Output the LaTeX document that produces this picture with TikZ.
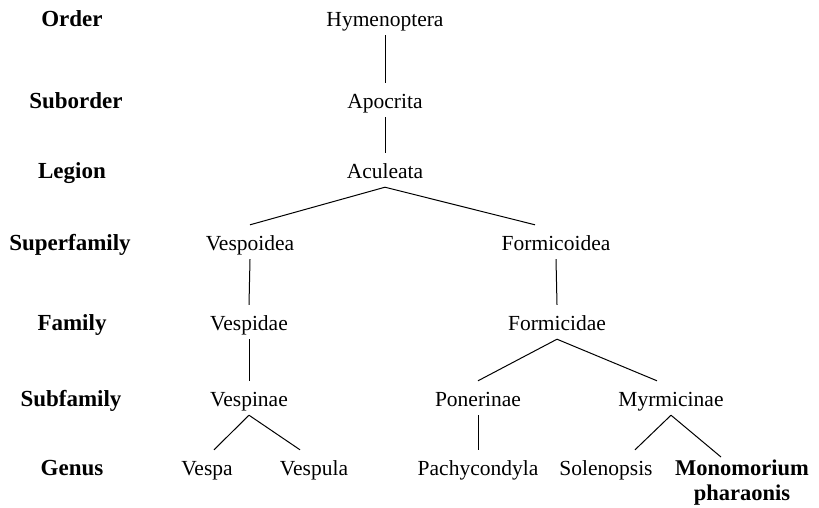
\documentclass[tikz,border=0pt]{standalone}
\usepackage{fontspec}
\setmainfont{Liberation Serif}
\begin{document}
\begin{tikzpicture}[x=1pt,y=-1pt,
  taxon/.style={inner xsep=0pt,inner ysep=7pt,text height=18pt,text depth=2pt,font=\fontsize{21.5}{25}\selectfont},
  rank/.style={inner sep=0pt,text height=18pt,text depth=2pt,font=\fontsize{23}{25}\selectfont\bfseries},
  link/.style={line width=1pt}]
\useasboundingbox (0,0) rectangle (819,507);
% rank labels
\node[rank] (rOrder) at (72,18) {Order};
\node[rank] (rSuborder) at (76,100) {Suborder};
\node[rank] (rLegion) at (72,170) {Legion};
\node[rank] (rSuper) at (70,242) {Superfamily};
\node[rank] (rFamily) at (72,322) {Family};
\node[rank] (rSub) at (71,398) {Subfamily};
\node[rank] (rGenus) at (72,467) {Genus};
% taxa
\node[taxon] (hym) at (385,18) {Hymenoptera};
\node[taxon] (apo) at (385,100) {Apocrita};
\node[taxon] (acu) at (385,170) {Aculeata};
\node[taxon] (vesp) at (250,242) {Vespoidea};
\node[taxon] (form) at (556,242) {Formicoidea};
\node[taxon] (vespid) at (249,322) {Vespidae};
\node[taxon] (formid) at (557,322) {Formicidae};
\node[taxon] (vespin) at (249,398) {Vespinae};
\node[taxon] (poner) at (478,398) {Ponerinae};
\node[taxon] (myrm) at (671,398) {Myrmicinae};
\node[taxon] (vespa) at (207,467) {Vespa};
\node[taxon] (vespula) at (314,467) {Vespula};
\node[taxon] (pachy) at (478,467) {Pachycondyla};
\node[taxon] (solen) at (606,467) {Solenopsis};
\node[inner sep=0pt,anchor=north,align=center,font=\fontsize{22.5}{25}\selectfont\bfseries] (mono) at (742,460) {Monomorium\\pharaonis};
% connectors
\draw[link] (hym.south) -- (apo.north);
\draw[link] (apo.south) -- (acu.north);
\draw[link] (acu.south) -- (vesp.north);
\draw[link] (acu.south) -- ([xshift=-21pt]form.north);
\draw[link] (vesp.south) -- (vespid.north);
\draw[link] (form.south) -- (formid.north);
\draw[link] (vespid.south) -- (vespin.north);
\draw[link] (formid.south) -- (poner.north);
\draw[link] (formid.south) -- ([xshift=-14pt]myrm.north);
\draw[link] (vespin.south) -- ([xshift=7pt]vespa.north);
\draw[link] (vespin.south) -- ([xshift=-14pt]vespula.north);
\draw[link] (poner.south) -- (pachy.north);
\draw[link] (myrm.south) -- ([xshift=29pt]solen.north);
\draw[link] (myrm.south) -- ([xshift=-21pt,yshift=3pt]mono.north);
\end{tikzpicture}
\end{document}
